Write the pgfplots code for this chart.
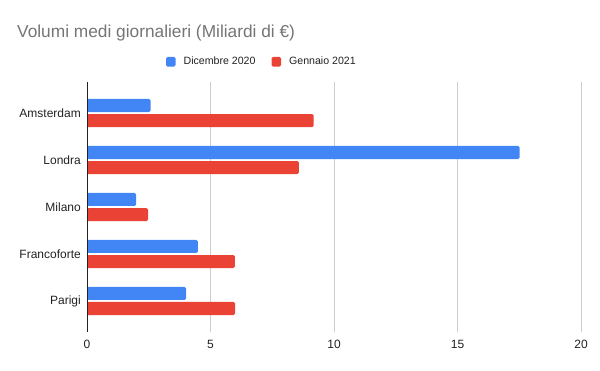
\documentclass[border=0pt]{standalone}
\usepackage{pgfplots}
\pgfplotsset{compat=1.18}
\usepackage{fontspec}
\setmainfont{Liberation Sans}
\definecolor{cblue}{HTML}{4285F4}
\definecolor{cred}{HTML}{EA4335}
\definecolor{cgrid}{HTML}{CCCCCC}
\definecolor{ctitle}{HTML}{757575}
\definecolor{ctext}{HTML}{222222}
\begin{document}
\begin{tikzpicture}
\useasboundingbox (0,0) rectangle (600bp,371bp);
\node[anchor=base west, inner sep=0pt, text=ctitle, font=\fontsize{17.3bp}{20bp}\selectfont] at (17bp,333bp) {Volumi medi giornalieri (Miliardi di €)};
\begin{axis}[
  at={(87bp,39bp)}, anchor=south west,
  scale only axis, width=494bp, height=250bp,
  xbar, bar width=0.277,
  xmin=0, xmax=20,
  ymin=-0.66, ymax=4.66, y dir=reverse,
  ytick={0,1,2,3,4},
  yticklabels={Amsterdam,Londra,Milano,Francoforte,Parigi},
  xtick={0,5,10,15,20},
  axis line style={draw=none},
  major tick length=0pt,
  tick style={draw=none},
  xmajorgrids, major grid style={draw=cgrid, line width=1bp},
  ticklabel style={font=\fontsize{12bp}{14bp}\selectfont, text=ctext},
  yticklabel style={inner sep=0pt, xshift=-6bp},
  xticklabel style={inner sep=0pt, yshift=-8bp},
  /pgf/number format/assume math mode=true,
  legend columns=2,
  legend style={at={(0.352,1.081)}, anchor=center, draw=none, fill=none,
    font=\fontsize{10.6bp}{12bp}\selectfont, text=ctext, nodes={inner sep=0pt},
    /tikz/every odd column/.style={column sep=8bp},
    /tikz/every even column/.style={column sep=16bp}},
  clip=false,
]
\addplot[fill=cblue, draw=none, bar shift=-0.16, rounded corners=1.5bp,
  legend image code/.code={\fill[cblue, rounded corners=1.5bp] (0bp,-4.8bp) rectangle (9.6bp,4.8bp);}]
  coordinates {(2.58,0) (17.51,1) (1.99,2) (4.49,3) (4.01,4)};
\addlegendentry{Dicembre 2020}
\addplot[fill=cred, draw=none, bar shift=0.16, rounded corners=1.5bp,
  legend image code/.code={\fill[cred, rounded corners=1.5bp] (0bp,-4.8bp) rectangle (9.6bp,4.8bp);}]
  coordinates {(9.18,0) (8.58,1) (2.47,2) (5.99,3) (6.0,4)};
\addlegendentry{Gennaio 2021}
\draw[draw=ctext, line width=1bp] (rel axis cs:0,0) -- (rel axis cs:0,1);
\end{axis}
\end{tikzpicture}
\end{document}
